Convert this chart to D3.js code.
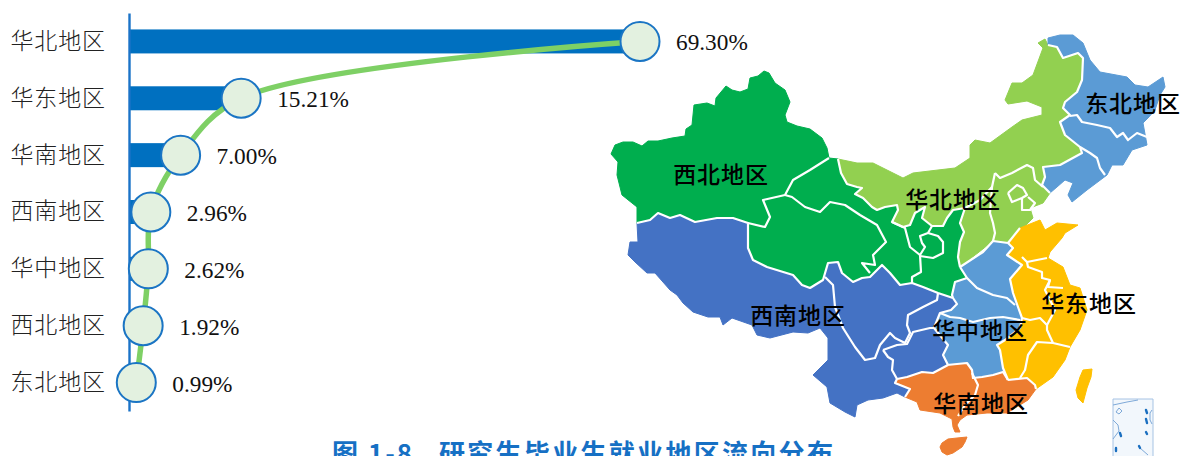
<!DOCTYPE html>
<html>
<head>
<meta charset="utf-8">
<script src="https://cdn.jsdelivr.net/npm/d3@7"></script>
<style>
  html, body { margin: 0; padding: 0; background: #fff; overflow: hidden; }
  svg { display: block; }
</style>
</head>
<body>
<div id="chart"></div>
<script>
// bar chart data
var regions = ['华北地区', '华东地区', '华南地区', '西南地区', '华中地区', '西北地区', '东北地区'];
var shares = [69.3, 15.21, 7.0, 2.96, 2.62, 1.92, 0.99];
var shareLabels = ['69.30%', '15.21%', '7.00%', '2.96%', '2.62%', '1.92%', '0.99%'];

// map outlines
var xinjiangEdge = [[637,207],[622,195],[617,175],[618,162],[611,154],[615,145],[623,142],[633,142],[642,146],[648,141],[658,141],[672,138],[685,136],[686,129],[692,125],[694,105],[707,103],[715,106],[716,98],[726,86],[732,90],[740,92],[748,89],[750,78],[758,76],[764,71],[769,73],[775,83],[785,90],[790,102],[785,115],[787,122],[797,126],[810,129],[822,138],[827,148],[829,158]];
var nwNorth = [[838,159],[841,173],[847,184],[857,187],[862,188],[855,194],[863,198],[872,207],[877,210],[885,207],[897,205],[898,210],[892,222],[903,227],[910,225],[915,213],[925,207],[922,218],[932,226],[943,226],[947,218],[953,210],[965,208],[960,223],[964,232],[960,242],[958,257],[960,267]];
var nwCentral = [[967,278],[955,282],[952,295]];
var nwSw = [[637,223],[650,220],[658,213],[670,218],[680,215],[695,222],[717,218],[733,218],[748,223],[748,248],[753,260],[767,267],[793,275],[802,285],[810,288],[823,280],[828,263],[838,262],[842,273],[853,282],[862,278],[870,277],[882,265],[890,273],[900,285],[912,283],[923,287],[938,293],[953,298]];
var swCentral = [[957,304],[951,310],[940,313],[934,328],[948,345],[943,355],[948,365]];
var swSouth = [[933,373],[922,372],[907,377],[897,379],[895,383],[910,389],[905,397]];
var swCoast = [[897,393],[883,398],[868,400],[857,405],[855,417],[845,412],[830,403],[827,387],[813,375],[828,360],[828,338],[820,328],[808,333],[793,332],[770,338],[757,335],[752,325],[732,318],[723,325],[720,317],[708,317],[693,312],[683,303],[677,295],[670,290],[655,273],[647,273],[635,262],[628,255],[630,242],[638,242]];
var northCoast = [[857,163],[873,163],[887,170],[903,178],[913,173],[938,170],[955,168],[970,158],[970,145],[975,140],[990,143],[1012,127],[1022,120],[1042,115],[1042,107],[1027,101],[1008,104],[1005,100],[1012,83],[1022,83],[1033,75],[1043,48],[1038,43],[1045,39]];
var northNe = [[1048,45],[1057,47],[1063,58],[1078,53],[1083,58],[1082,80],[1077,92],[1065,102],[1063,108],[1070,115],[1060,122],[1065,135],[1080,147],[1082,153],[1060,165],[1043,167],[1045,177],[1042,185],[1050,193]];
var northSea = [[1043,203],[1030,208],[1033,218],[1013,238],[1008,243]];
var northCentral = [[993,241],[983,252]];
var neCoast = [[1057,187],[1065,180],[1073,183],[1068,195],[1072,202],[1087,190],[1107,175],[1112,165],[1123,165],[1132,150],[1147,145],[1143,123],[1148,118],[1155,110],[1160,95],[1165,87],[1163,77],[1148,87],[1135,85],[1127,77],[1100,72],[1090,60],[1083,43],[1073,35],[1060,35],[1048,38]];
var centralEast = [[1008,243],[1013,248],[1007,255],[1022,265],[1010,279],[1013,293],[1018,307],[1022,318],[1020,328],[1005,340],[997,345],[1000,350],[1003,368],[1008,380]];
var centralSouth = [[1003,372],[993,375],[982,377],[973,378],[972,370],[967,363],[947,365]];
var eastCoast = [[1027,378],[1035,385],[1036,389],[1053,377],[1065,360],[1070,347],[1080,330],[1087,310],[1080,288],[1070,285],[1063,267],[1048,258],[1050,252],[1062,238],[1065,233],[1078,225],[1057,223],[1045,230],[1040,220],[1020,228]];
var southCoast = [[1028,400],[1007,413],[987,413],[967,415],[960,420],[957,425],[960,432],[955,432],[953,427],[952,419],[940,413],[920,410],[917,402]];
var hainan = [[940,447],[942,443],[948,439],[957,438],[967,437],[965,442],[962,447],[953,453],[947,455],[942,452]];
var taiwan = [[1076,390],[1080,377],[1083,370],[1092,369],[1091,377],[1087,388],[1083,403],[1078,398]];

// white province lines inside a region
var provinceLines = [
  [[829,158],[810,170],[793,180],[785,195],[763,200],[770,217],[765,227],[748,223]],
  [[785,195],[792,197],[805,207],[820,212],[830,202],[845,205],[860,215],[877,225],[886,242],[873,255],[875,265],[862,263],[870,273]],
  [[892,222],[905,228],[910,247],[920,255],[921,272],[912,277],[912,283]],
  [[932,226],[928,233],[920,236],[922,243],[925,247],[920,255]],
  [[928,233],[938,236],[943,242],[943,253],[933,258],[920,256]],
  [[825,277],[833,285],[835,307],[843,328],[855,347],[865,360],[875,358],[880,345],[890,333],[895,338],[905,343],[910,333],[907,325],[908,315],[923,307],[937,300],[938,293]],
  [[883,350],[888,357],[893,360],[892,370],[897,379]],
  [[883,350],[897,345],[907,344],[913,332],[930,328],[934,328]],
  [[995,173],[1000,178],[1012,173],[1027,165],[1033,168],[1035,180],[1043,187]],
  [[995,173],[992,187],[990,213],[993,223],[995,233],[993,241]],
  [[992,187],[980,200],[965,208]],
  [[1008,193],[1017,185],[1023,188],[1027,195],[1022,198],[1012,202],[1008,193]],
  [[1022,198],[1022,210],[1030,210],[1035,203],[1028,197]],
  [[1070,116],[1077,115],[1082,122],[1097,125],[1110,128],[1117,137],[1123,133],[1128,140],[1137,133],[1147,137]],
  [[1080,147],[1090,153],[1097,158],[1100,168],[1105,175]],
  [[967,278],[977,288],[993,295],[1007,298],[1015,305]],
  [[940,313],[950,317],[960,318],[973,322],[990,318],[1003,317],[1020,320]],
  [[1022,257],[1027,262],[1047,258]],
  [[1027,262],[1028,267],[1042,272],[1042,278],[1050,280],[1048,287],[1063,288]],
  [[1022,318],[1030,320],[1040,318],[1047,325],[1047,330],[1053,343],[1070,347]],
  [[1047,325],[1055,310],[1050,300],[1045,290],[1050,280]],
  [[1053,343],[1037,342],[1028,355],[1025,370],[1020,378]],
  [[972,373],[978,385],[975,395],[965,405],[958,416]],
  [[1020,228],[1008,243]]
];

// inset with the south sea islands
var insetCorners = [[1113,399],[1153,399],[1153,460],[1113,460]];
var insetCoast = [
  [[1113,405],[1127,402],[1138,400]],
  [[1113,420],[1118,425],[1119,431],[1113,439]],
  [[1116,412],[1119,408],[1122,411],[1119,414],[1116,412]],
  [[1152,410],[1150,413],[1150,420],[1152,424]],
  [[1140,448],[1148,455]]
];
var insetIslands = [[[1146,410],[1147,413]],[[1146,419],[1147,423]],[[1146,432],[1147,434]],[[1120,433],[1121,436]],[[1116,448],[1116,451]],[[1139,446],[1140,448]]];

var regionColors = { nw: '#00ae4e', sw: '#4472c4', north: '#92d050', ne: '#5b9bd5', central: '#5b9bd5', east: '#ffc000', south: '#ed7d31' };
var rev = function (a) { return a.slice().reverse(); };

var nwRing = [[637,222]].concat(xinjiangEdge, nwNorth, nwCentral, rev(nwSw));
var swRing = nwSw.concat(swCentral, swSouth, swCoast);
var northRing = nwNorth.concat(northCentral).reverse().concat(northCoast, northNe, northSea);
var neRing = northNe.concat(neCoast);
var centralRing = [[960,267]].concat(northCentral.slice().reverse(), centralEast, centralSouth, rev(swCentral), [[953,298]], rev(nwCentral));
var eastRing = centralEast.concat(eastCoast);
var southRing = [[897,379],[907,377],[922,372],[933,373]].concat(rev(centralSouth), [[1008,380]], eastCoast.slice(0, 3), southCoast, [[905,397],[910,389],[895,383]]);

var mapShapes = [
  { ring: nwRing, region: 'nw' }, { ring: swRing, region: 'sw' }, { ring: northRing, region: 'north' },
  { ring: neRing, region: 'ne' }, { ring: centralRing, region: 'central' }, { ring: eastRing, region: 'east' },
  { ring: southRing, region: 'south' }, { ring: hainan, region: 'south' }, { ring: taiwan, region: 'east' }
];

// borders between regions, drawn white on top of the fills
var regionBorders = [
  nwNorth, nwSw, northNe,
  [[953,298]].concat(swCentral),
  [[948,365]].concat(swSouth),
  [[960,267]].concat(nwCentral, [[953,298]]),
  [[1008,243]].concat(northCentral, [[960,267]]),
  centralEast,
  [[1008,380]].concat(centralSouth),
  [[1008,380]].concat(eastCoast.slice(0, 3))
];

var mapLabels = ['西北地区', '东北地区', '华北地区', '西南地区', '华中地区', '华东地区', '华南地区'];
var mapLabelSpots = [[721,175],[1133,104],[953,200],[798,316],[980,331],[1089,304],[981,404]];

var width = 1180, height = 456;
var margin = { left: 129 };

var svg = d3.select('#chart').append('svg').attr('width', width).attr('height', height);

var x = d3.scaleLinear().domain([0, 69.3]).range([margin.left, 640]);
var y = d3.scaleBand().domain(regions).range([13, 411]);
var barHeight = 24;

// bars
svg.append('g').selectAll('rect').data(regions).enter().append('rect')
  .attr('x', margin.left)
  .attr('y', function (d) { return y(d) + y.bandwidth() / 2 - barHeight / 2; })
  .attr('width', function (d, i) { return x(shares[i]) - margin.left; })
  .attr('height', barHeight)
  .attr('fill', '#0070c0');

// axis
var yAxis = svg.append('g').attr('transform', 'translate(' + margin.left + ',0)')
  .call(d3.axisLeft(y).tickSize(0).tickPadding(23));
yAxis.select('.domain').attr('stroke', '#1a73c8').attr('stroke-width', 2.4);
yAxis.selectAll('text')
  .attr('font-family', '"Noto Sans CJK SC"')
  .attr('font-size', 23)
  .attr('font-weight', 300)
  .attr('letter-spacing', 0.9)
  .attr('fill', '#222');

// green trend line
var trend = d3.line()
  .x(function (d, i) { return x(shares[i]); })
  .y(function (d) { return y(d) + y.bandwidth() / 2; })
  .curve(d3.curveCatmullRom.alpha(0.5));
svg.append('path').datum(regions).attr('d', trend)
  .attr('fill', 'none').attr('stroke', '#7ed065').attr('stroke-width', 5.5);

// markers
svg.append('g').selectAll('circle').data(regions).enter().append('circle')
  .attr('cx', function (d, i) { return x(shares[i]); })
  .attr('cy', function (d) { return y(d) + y.bandwidth() / 2; })
  .attr('r', 19.5)
  .attr('fill', '#e3f1e0')
  .attr('stroke', '#1b75c4')
  .attr('stroke-width', 2);

svg.append('g').selectAll('text').data(shareLabels).enter().append('text')
  .attr('x', function (d, i) { return x(shares[i]) + 36; })
  .attr('y', function (d, i) { return y(regions[i]) + y.bandwidth() / 2 + 9; })
  .attr('font-family', '"Liberation Serif"')
  .attr('font-size', 23.3)
  .attr('fill', '#111')
  .text(function (d) { return d; });

// map
var geoPath = d3.geoPath(d3.geoIdentity());
var closeRing = function (r) { return r.concat([r[0]]); };
var mapG = svg.append('g');

mapG.selectAll('path.area').data(mapShapes).enter().append('path')
  .attr('class', 'area')
  .attr('d', function (d) { return geoPath({ type: 'Polygon', coordinates: [closeRing(d.ring)] }); })
  .attr('fill', function (d) { return regionColors[d.region]; })
  .attr('stroke', function (d) { return regionColors[d.region]; })
  .attr('stroke-width', 1)
  .attr('stroke-linejoin', 'round');

mapG.selectAll('path.border').data(regionBorders.concat(provinceLines)).enter().append('path')
  .attr('class', 'border')
  .attr('d', function (d) { return geoPath({ type: 'LineString', coordinates: d }); })
  .attr('fill', 'none')
  .attr('stroke', '#fff')
  .attr('stroke-width', 2.2)
  .attr('stroke-linejoin', 'round');

// inset
mapG.append('path')
  .attr('d', geoPath({ type: 'Polygon', coordinates: [closeRing(insetCorners)] }))
  .attr('fill', '#f2f7fc').attr('stroke', '#a6c3e4').attr('stroke-width', 1);
mapG.selectAll('path.inset').data(insetCoast).enter().append('path')
  .attr('class', 'inset')
  .attr('d', function (d) { return geoPath({ type: 'LineString', coordinates: d }); })
  .attr('fill', 'none').attr('stroke', '#7ea9d8').attr('stroke-width', 1);
mapG.selectAll('path.island').data(insetIslands).enter().append('path')
  .attr('class', 'island')
  .attr('d', function (d) { return geoPath({ type: 'LineString', coordinates: d }); })
  .attr('fill', 'none').attr('stroke', '#1b6fc0').attr('stroke-width', 2.4).attr('stroke-linecap', 'round');

mapG.selectAll('text').data(mapLabels).enter().append('text')
  .attr('x', function (d, i) { return mapLabelSpots[i][0]; })
  .attr('y', function (d, i) { return mapLabelSpots[i][1]; })
  .attr('dy', '0.36em')
  .attr('text-anchor', 'middle')
  .attr('font-family', '"Noto Sans CJK SC"')
  .attr('font-size', 23)
  .attr('font-weight', 500)
  .attr('letter-spacing', 0.9)
  .attr('fill', '#000')
  .text(function (d) { return d; });

// caption, cut off by the page edge as in the source
svg.append('text').attr('x', 332).attr('y', 463)
  .attr('font-family', '"Noto Sans CJK SC"').attr('font-size', 26).attr('font-weight', 700)
  .attr('fill', '#1670c4').attr('letter-spacing', 2)
  .text('图 1-8');
svg.append('text').attr('x', 439).attr('y', 463)
  .attr('font-family', '"Noto Sans CJK SC"').attr('font-size', 26).attr('font-weight', 700)
  .attr('fill', '#1670c4').attr('letter-spacing', 2.3)
  .text('研究生毕业生就业地区流向分布');
</script>
</body>
</html>
